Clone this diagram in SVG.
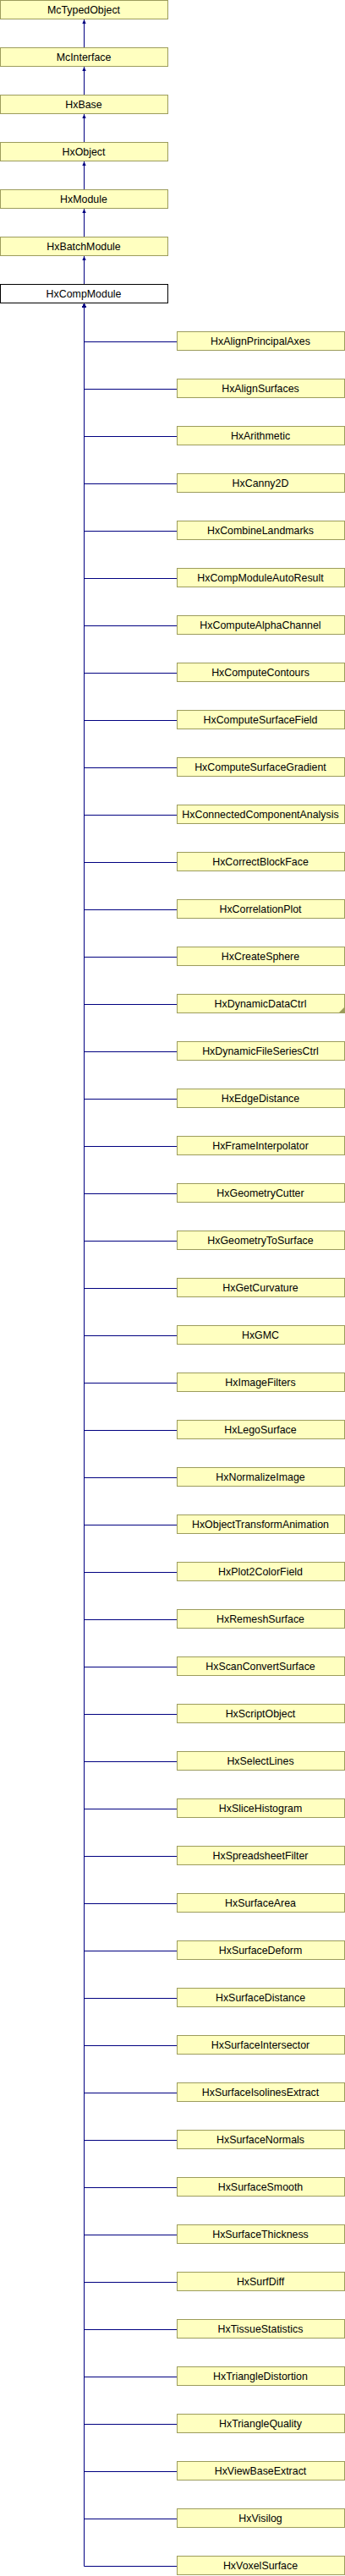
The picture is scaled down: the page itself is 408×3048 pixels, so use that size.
<svg xmlns="http://www.w3.org/2000/svg" width="408" height="3048" viewBox="0 0 408 3048">
<style>
.n rect{fill:#ffffc0;stroke:#9c9c5c;stroke-width:1}
.cur rect{fill:#ffffff;stroke:#000000;stroke-width:1}
text{font-family:"Liberation Sans",Arial,sans-serif;font-size:12.4px;fill:#000;text-anchor:middle}
.e path{fill:none;stroke:#000080;stroke-width:1;marker-end:url(#a)}
</style>
<defs>
<marker id="a" viewBox="-6 -3 7 6" markerWidth="7" markerHeight="6" refX="0" refY="0" orient="auto" markerUnits="userSpaceOnUse">
<path d="M0,0 L-5,-2.2 L-5,2.2 Z" fill="#000080" stroke="none"/>
</marker>
</defs>
<g id="edges" class="e">
<path d="M99.5,56 V23"/>
<path d="M99.5,112 V79"/>
<path d="M99.5,168 V135"/>
<path d="M99.5,224 V191"/>
<path d="M99.5,280 V247"/>
<path d="M99.5,336 V303"/>
<path d="M209,404.5 H99.5 V359"/>
<path d="M209,460.5 H99.5 V359"/>
<path d="M209,516.5 H99.5 V359"/>
<path d="M209,572.5 H99.5 V359"/>
<path d="M209,628.5 H99.5 V359"/>
<path d="M209,684.5 H99.5 V359"/>
<path d="M209,740.5 H99.5 V359"/>
<path d="M209,796.5 H99.5 V359"/>
<path d="M209,852.5 H99.5 V359"/>
<path d="M209,908.5 H99.5 V359"/>
<path d="M209,964.5 H99.5 V359"/>
<path d="M209,1020.5 H99.5 V359"/>
<path d="M209,1076.5 H99.5 V359"/>
<path d="M209,1132.5 H99.5 V359"/>
<path d="M209,1188.5 H99.5 V359"/>
<path d="M209,1244.5 H99.5 V359"/>
<path d="M209,1300.5 H99.5 V359"/>
<path d="M209,1356.5 H99.5 V359"/>
<path d="M209,1412.5 H99.5 V359"/>
<path d="M209,1468.5 H99.5 V359"/>
<path d="M209,1524.5 H99.5 V359"/>
<path d="M209,1580.5 H99.5 V359"/>
<path d="M209,1636.5 H99.5 V359"/>
<path d="M209,1692.5 H99.5 V359"/>
<path d="M209,1748.5 H99.5 V359"/>
<path d="M209,1804.5 H99.5 V359"/>
<path d="M209,1860.5 H99.5 V359"/>
<path d="M209,1916.5 H99.5 V359"/>
<path d="M209,1972.5 H99.5 V359"/>
<path d="M209,2028.5 H99.5 V359"/>
<path d="M209,2084.5 H99.5 V359"/>
<path d="M209,2140.5 H99.5 V359"/>
<path d="M209,2196.5 H99.5 V359"/>
<path d="M209,2252.5 H99.5 V359"/>
<path d="M209,2308.5 H99.5 V359"/>
<path d="M209,2364.5 H99.5 V359"/>
<path d="M209,2420.5 H99.5 V359"/>
<path d="M209,2476.5 H99.5 V359"/>
<path d="M209,2532.5 H99.5 V359"/>
<path d="M209,2588.5 H99.5 V359"/>
<path d="M209,2644.5 H99.5 V359"/>
<path d="M209,2700.5 H99.5 V359"/>
<path d="M209,2756.5 H99.5 V359"/>
<path d="M209,2812.5 H99.5 V359"/>
<path d="M209,2868.5 H99.5 V359"/>
<path d="M209,2924.5 H99.5 V359"/>
<path d="M209,2980.5 H99.5 V359"/>
<path d="M209,3036.5 H99.5 V359"/>
</g>
<g id="McTypedObject" class="n" transform="translate(0,0)"><rect x="0.5" y="0.5" width="198" height="22"/><text x="99" y="15.5">McTypedObject</text></g>
<g id="McInterface" class="n" transform="translate(0,56)"><rect x="0.5" y="0.5" width="198" height="22"/><text x="99" y="15.5">McInterface</text></g>
<g id="HxBase" class="n" transform="translate(0,112)"><rect x="0.5" y="0.5" width="198" height="22"/><text x="99" y="15.5">HxBase</text></g>
<g id="HxObject" class="n" transform="translate(0,168)"><rect x="0.5" y="0.5" width="198" height="22"/><text x="99" y="15.5">HxObject</text></g>
<g id="HxModule" class="n" transform="translate(0,224)"><rect x="0.5" y="0.5" width="198" height="22"/><text x="99" y="15.5">HxModule</text></g>
<g id="HxBatchModule" class="n" transform="translate(0,280)"><rect x="0.5" y="0.5" width="198" height="22"/><text x="99" y="15.5">HxBatchModule</text></g>
<g id="HxCompModule" class="cur" transform="translate(0,336)"><rect x="0.5" y="0.5" width="198" height="22"/><text x="99" y="15.5">HxCompModule</text></g>
<g id="HxAlignPrincipalAxes" class="n" transform="translate(209,392)"><rect x="0.5" y="0.5" width="198" height="22"/><text x="99" y="15.5">HxAlignPrincipalAxes</text></g>
<g id="HxAlignSurfaces" class="n" transform="translate(209,448)"><rect x="0.5" y="0.5" width="198" height="22"/><text x="99" y="15.5">HxAlignSurfaces</text></g>
<g id="HxArithmetic" class="n" transform="translate(209,504)"><rect x="0.5" y="0.5" width="198" height="22"/><text x="99" y="15.5">HxArithmetic</text></g>
<g id="HxCanny2D" class="n" transform="translate(209,560)"><rect x="0.5" y="0.5" width="198" height="22"/><text x="99" y="15.5">HxCanny2D</text></g>
<g id="HxCombineLandmarks" class="n" transform="translate(209,616)"><rect x="0.5" y="0.5" width="198" height="22"/><text x="99" y="15.5">HxCombineLandmarks</text></g>
<g id="HxCompModuleAutoResult" class="n" transform="translate(209,672)"><rect x="0.5" y="0.5" width="198" height="22"/><text x="99" y="15.5">HxCompModuleAutoResult</text></g>
<g id="HxComputeAlphaChannel" class="n" transform="translate(209,728)"><rect x="0.5" y="0.5" width="198" height="22"/><text x="99" y="15.5">HxComputeAlphaChannel</text></g>
<g id="HxComputeContours" class="n" transform="translate(209,784)"><rect x="0.5" y="0.5" width="198" height="22"/><text x="99" y="15.5">HxComputeContours</text></g>
<g id="HxComputeSurfaceField" class="n" transform="translate(209,840)"><rect x="0.5" y="0.5" width="198" height="22"/><text x="99" y="15.5">HxComputeSurfaceField</text></g>
<g id="HxComputeSurfaceGradient" class="n" transform="translate(209,896)"><rect x="0.5" y="0.5" width="198" height="22"/><text x="99" y="15.5">HxComputeSurfaceGradient</text></g>
<g id="HxConnectedComponentAnalysis" class="n" transform="translate(209,952)"><rect x="0.5" y="0.5" width="198" height="22"/><text x="99" y="15.5">HxConnectedComponentAnalysis</text></g>
<g id="HxCorrectBlockFace" class="n" transform="translate(209,1008)"><rect x="0.5" y="0.5" width="198" height="22"/><text x="99" y="15.5">HxCorrectBlockFace</text></g>
<g id="HxCorrelationPlot" class="n" transform="translate(209,1064)"><rect x="0.5" y="0.5" width="198" height="22"/><text x="99" y="15.5">HxCorrelationPlot</text></g>
<g id="HxCreateSphere" class="n" transform="translate(209,1120)"><rect x="0.5" y="0.5" width="198" height="22"/><text x="99" y="15.5">HxCreateSphere</text></g>
<g id="HxDynamicDataCtrl" class="n" transform="translate(209,1176)"><rect x="0.5" y="0.5" width="198" height="22"/><polygon points="191,23 198,16 198,23" fill="#9c9c5c"/><text x="99" y="15.5">HxDynamicDataCtrl</text></g>
<g id="HxDynamicFileSeriesCtrl" class="n" transform="translate(209,1232)"><rect x="0.5" y="0.5" width="198" height="22"/><text x="99" y="15.5">HxDynamicFileSeriesCtrl</text></g>
<g id="HxEdgeDistance" class="n" transform="translate(209,1288)"><rect x="0.5" y="0.5" width="198" height="22"/><text x="99" y="15.5">HxEdgeDistance</text></g>
<g id="HxFrameInterpolator" class="n" transform="translate(209,1344)"><rect x="0.5" y="0.5" width="198" height="22"/><text x="99" y="15.5">HxFrameInterpolator</text></g>
<g id="HxGeometryCutter" class="n" transform="translate(209,1400)"><rect x="0.5" y="0.5" width="198" height="22"/><text x="99" y="15.5">HxGeometryCutter</text></g>
<g id="HxGeometryToSurface" class="n" transform="translate(209,1456)"><rect x="0.5" y="0.5" width="198" height="22"/><text x="99" y="15.5">HxGeometryToSurface</text></g>
<g id="HxGetCurvature" class="n" transform="translate(209,1512)"><rect x="0.5" y="0.5" width="198" height="22"/><text x="99" y="15.5">HxGetCurvature</text></g>
<g id="HxGMC" class="n" transform="translate(209,1568)"><rect x="0.5" y="0.5" width="198" height="22"/><text x="99" y="15.5">HxGMC</text></g>
<g id="HxImageFilters" class="n" transform="translate(209,1624)"><rect x="0.5" y="0.5" width="198" height="22"/><text x="99" y="15.5">HxImageFilters</text></g>
<g id="HxLegoSurface" class="n" transform="translate(209,1680)"><rect x="0.5" y="0.5" width="198" height="22"/><text x="99" y="15.5">HxLegoSurface</text></g>
<g id="HxNormalizeImage" class="n" transform="translate(209,1736)"><rect x="0.5" y="0.5" width="198" height="22"/><text x="99" y="15.5">HxNormalizeImage</text></g>
<g id="HxObjectTransformAnimation" class="n" transform="translate(209,1792)"><rect x="0.5" y="0.5" width="198" height="22"/><text x="99" y="15.5">HxObjectTransformAnimation</text></g>
<g id="HxPlot2ColorField" class="n" transform="translate(209,1848)"><rect x="0.5" y="0.5" width="198" height="22"/><text x="99" y="15.5">HxPlot2ColorField</text></g>
<g id="HxRemeshSurface" class="n" transform="translate(209,1904)"><rect x="0.5" y="0.5" width="198" height="22"/><text x="99" y="15.5">HxRemeshSurface</text></g>
<g id="HxScanConvertSurface" class="n" transform="translate(209,1960)"><rect x="0.5" y="0.5" width="198" height="22"/><text x="99" y="15.5">HxScanConvertSurface</text></g>
<g id="HxScriptObject" class="n" transform="translate(209,2016)"><rect x="0.5" y="0.5" width="198" height="22"/><text x="99" y="15.5">HxScriptObject</text></g>
<g id="HxSelectLines" class="n" transform="translate(209,2072)"><rect x="0.5" y="0.5" width="198" height="22"/><text x="99" y="15.5">HxSelectLines</text></g>
<g id="HxSliceHistogram" class="n" transform="translate(209,2128)"><rect x="0.5" y="0.5" width="198" height="22"/><text x="99" y="15.5">HxSliceHistogram</text></g>
<g id="HxSpreadsheetFilter" class="n" transform="translate(209,2184)"><rect x="0.5" y="0.5" width="198" height="22"/><text x="99" y="15.5">HxSpreadsheetFilter</text></g>
<g id="HxSurfaceArea" class="n" transform="translate(209,2240)"><rect x="0.5" y="0.5" width="198" height="22"/><text x="99" y="15.5">HxSurfaceArea</text></g>
<g id="HxSurfaceDeform" class="n" transform="translate(209,2296)"><rect x="0.5" y="0.5" width="198" height="22"/><text x="99" y="15.5">HxSurfaceDeform</text></g>
<g id="HxSurfaceDistance" class="n" transform="translate(209,2352)"><rect x="0.5" y="0.5" width="198" height="22"/><text x="99" y="15.5">HxSurfaceDistance</text></g>
<g id="HxSurfaceIntersector" class="n" transform="translate(209,2408)"><rect x="0.5" y="0.5" width="198" height="22"/><text x="99" y="15.5">HxSurfaceIntersector</text></g>
<g id="HxSurfaceIsolinesExtract" class="n" transform="translate(209,2464)"><rect x="0.5" y="0.5" width="198" height="22"/><text x="99" y="15.5">HxSurfaceIsolinesExtract</text></g>
<g id="HxSurfaceNormals" class="n" transform="translate(209,2520)"><rect x="0.5" y="0.5" width="198" height="22"/><text x="99" y="15.5">HxSurfaceNormals</text></g>
<g id="HxSurfaceSmooth" class="n" transform="translate(209,2576)"><rect x="0.5" y="0.5" width="198" height="22"/><text x="99" y="15.5">HxSurfaceSmooth</text></g>
<g id="HxSurfaceThickness" class="n" transform="translate(209,2632)"><rect x="0.5" y="0.5" width="198" height="22"/><text x="99" y="15.5">HxSurfaceThickness</text></g>
<g id="HxSurfDiff" class="n" transform="translate(209,2688)"><rect x="0.5" y="0.5" width="198" height="22"/><text x="99" y="15.5">HxSurfDiff</text></g>
<g id="HxTissueStatistics" class="n" transform="translate(209,2744)"><rect x="0.5" y="0.5" width="198" height="22"/><text x="99" y="15.5">HxTissueStatistics</text></g>
<g id="HxTriangleDistortion" class="n" transform="translate(209,2800)"><rect x="0.5" y="0.5" width="198" height="22"/><text x="99" y="15.5">HxTriangleDistortion</text></g>
<g id="HxTriangleQuality" class="n" transform="translate(209,2856)"><rect x="0.5" y="0.5" width="198" height="22"/><text x="99" y="15.5">HxTriangleQuality</text></g>
<g id="HxViewBaseExtract" class="n" transform="translate(209,2912)"><rect x="0.5" y="0.5" width="198" height="22"/><text x="99" y="15.5">HxViewBaseExtract</text></g>
<g id="HxVisilog" class="n" transform="translate(209,2968)"><rect x="0.5" y="0.5" width="198" height="22"/><text x="99" y="15.5">HxVisilog</text></g>
<g id="HxVoxelSurface" class="n" transform="translate(209,3024)"><rect x="0.5" y="0.5" width="198" height="22"/><text x="99" y="15.5">HxVoxelSurface</text></g>
</svg>
